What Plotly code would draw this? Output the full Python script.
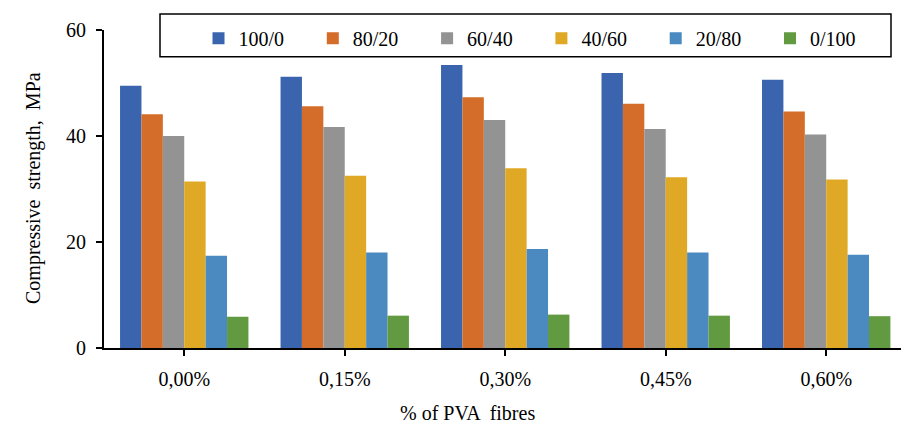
import plotly.graph_objects as go

# Fibre content groups on the x axis
fibre_content = ["0,00%", "0,15%", "0,30%", "0,45%", "0,60%"]

# Binder ratio series (compressive strength, MPa)
series_names = ["100/0", "80/20", "60/40", "40/60", "20/80", "0/100"]
s_100_0 = [49.5, 51.2, 53.4, 51.9, 50.6]
s_80_20 = [44.1, 45.6, 47.3, 46.1, 44.6]
s_60_40 = [40.0, 41.7, 43.0, 41.3, 40.3]
s_40_60 = [31.4, 32.5, 33.9, 32.2, 31.8]
s_20_80 = [17.4, 18.0, 18.7, 18.0, 17.6]
s_0_100 = [5.9, 6.1, 6.3, 6.1, 6.0]

series_values = [s_100_0, s_80_20, s_60_40, s_40_60, s_20_80, s_0_100]
colors = ["#3A64AE", "#D36D29", "#939393", "#E0A925", "#4A8AC0", "#619A41"]

FONT = "Times New Roman, Liberation Serif, DejaVu Serif, serif"

fig = go.Figure()
for name, vals, col in zip(series_names, series_values, colors):
    fig.add_trace(go.Bar(
        x=fibre_content, y=vals, name=name,
        marker=dict(color=col, line=dict(width=0)),
    ))

fig.update_layout(
    width=901, height=426,
    margin=dict(l=104, r=0, t=30, b=78, autoexpand=False),
    paper_bgcolor="white", plot_bgcolor="white",
    font=dict(family=FONT, size=20, color="black"),
    barmode="group", bargap=0.2, bargroupgap=0,
    showlegend=True,
    legend=dict(
        orientation="h", x=(198.5 - 104) / 797, xanchor="left",
        y=1.035, yanchor="top",
        entrywidth=69.3, entrywidthmode="pixels",
        font=dict(family=FONT, size=20, color="black"),
        bgcolor="rgba(0,0,0,0)", borderwidth=0,
        traceorder="normal",
    ),
    xaxis=dict(
        type="category", range=[-0.5, 4.466],
        showline=True, linecolor="black", linewidth=2,
        ticks="outside", ticklen=6, tickwidth=2, tickcolor="black",
        tickson="labels", ticklabelstandoff=6,
        showgrid=False, zeroline=False,
        tickfont=dict(family=FONT, size=20),
    ),
    yaxis=dict(
        range=[0, 60], tickvals=[0, 20, 40, 60],
        showline=True, linecolor="black", linewidth=2,
        ticks="outside", ticklen=6, tickwidth=2, tickcolor="black",
        ticklabelstandoff=6,
        showgrid=False, zeroline=False,
        tickfont=dict(family=FONT, size=20),
    ),
    shapes=[dict(
        type="rect", xref="paper", yref="paper",
        x0=(160 - 104) / 797, x1=(891 - 104) / 797,
        y0=(348 - 56.7) / 318, y1=(348 - 14) / 318,
        line=dict(color="black", width=1.5), fillcolor="rgba(0,0,0,0)",
        layer="above",
    )],
    annotations=[
        dict(text="Compressive  strength,  MPa", xref="paper", yref="paper",
             x=(33 - 104) / 797, y=(348 - 188) / 318, textangle=-90,
             showarrow=False, xanchor="center", yanchor="middle",
             font=dict(family=FONT, size=20)),
        dict(text="% of PVA  fibres", xref="paper", yref="paper",
             x=(467 - 104) / 797, y=(348 - 413) / 318,
             showarrow=False, xanchor="center", yanchor="middle",
             font=dict(family=FONT, size=20)),
    ],
)

fig.write_html("out.html")
